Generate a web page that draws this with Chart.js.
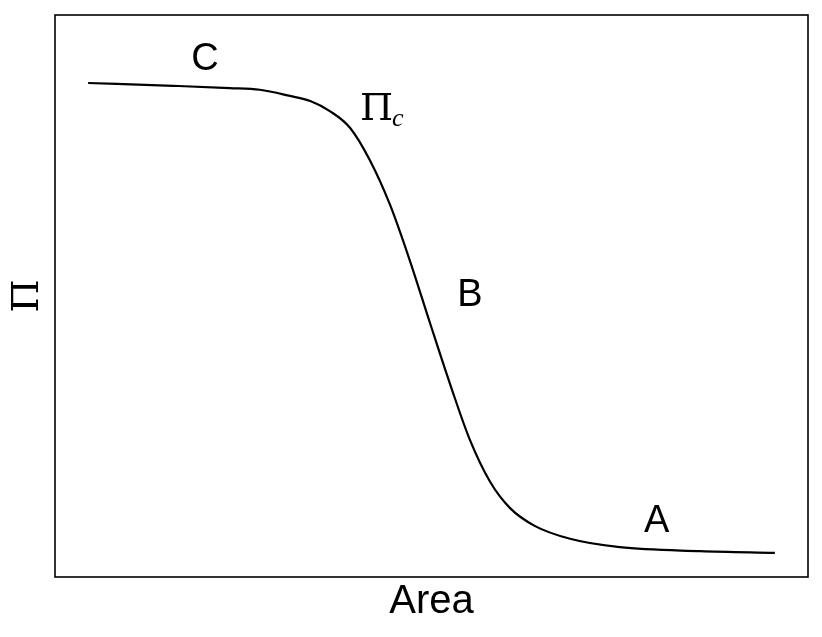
<!DOCTYPE html>
<html>
<head>
<meta charset="utf-8">
<script src="https://cdn.jsdelivr.net/npm/chart.js@4/dist/chart.umd.min.js"></script>
<style>
  html, body { margin: 0; padding: 0; background: #fff; }
  #wrap { width: 822px; height: 637px; }
</style>
</head>
<body>
<div id="wrap"><canvas id="chart"></canvas></div>
<script>
'use strict';

/* === DONNÉES === */
const AIRE = [0.44, 1.57, 2.32, 2.72, 3.12, 3.39, 3.65, 3.92, 4.18, 4.45, 4.71, 4.98,
              5.25, 5.51, 5.78, 6.04, 6.37, 6.84, 7.50, 8.57, 9.56];
const PRESSION = [8.79, 8.74, 8.70, 8.67, 8.56, 8.47, 8.29, 7.99, 7.42, 6.62, 5.64, 4.52,
                  3.42, 2.44, 1.69, 1.23, 0.91, 0.68, 0.53, 0.46, 0.43];

const ETIQUETTES = ['C', 'B', 'A'];
const ETIQ_X = [1.99, 5.51, 7.99];
const ETIQ_Y = [9.02, 4.82, 0.80];

const PI_C_X = 4.05;
const PI_C_Y = 8.13;

/* === PLUGIN : cadre + textes === */
const pluginDecor = {
  id: 'decor',
  afterDraw(chart) {
    const { ctx, chartArea: a, scales } = chart;
    ctx.save();
    ctx.strokeStyle = '#000';
    ctx.lineWidth = 1.6;
    ctx.strokeRect(a.left, a.top, a.right - a.left, a.bottom - a.top);

    ctx.fillStyle = '#000';
    ctx.textAlign = 'center';
    ctx.textBaseline = 'alphabetic';
    ctx.font = '38px "Liberation Sans", Arial, sans-serif';
    ETIQUETTES.forEach((t, i) => {
      ctx.fillText(t, scales.x.getPixelForValue(ETIQ_X[i]), scales.y.getPixelForValue(ETIQ_Y[i]));
    });

    // Π_c
    const px = scales.x.getPixelForValue(PI_C_X);
    const py = scales.y.getPixelForValue(PI_C_Y);
    ctx.textAlign = 'left';
    ctx.font = '38px "DejaVu Serif", "Liberation Serif", serif';
    ctx.fillText('Π', px, py);
    const w = ctx.measureText('Π').width;
    ctx.font = 'italic 26px "Liberation Serif", serif';
    ctx.fillText('c', px + w - 1, py + 6);

    // titres des axes
    ctx.textAlign = 'center';
    ctx.font = '40px "Liberation Sans", Arial, sans-serif';
    ctx.fillText('Area', (a.left + a.right) / 2, 613);

    ctx.translate(38, (a.top + a.bottom) / 2);
    ctx.rotate(-Math.PI / 2);
    ctx.font = '38px "DejaVu Serif", "Liberation Serif", serif';
    ctx.fillText('Π', 0, 0);
    ctx.restore();
  }
};

/* === GRAPHIQUE === */
new Chart(document.getElementById('chart'), {
  type: 'line',
  data: {
    datasets: [{
      data: AIRE.map((x, i) => ({ x, y: PRESSION[i] })),
      borderColor: '#000',
      borderWidth: 2.2,
      pointRadius: 0,
      fill: false,
      cubicInterpolationMode: 'monotone'
    }]
  },
  options: {
    responsive: true,
    maintainAspectRatio: false,
    animation: false,
    layout: { padding: { left: 55, top: 15, right: 14, bottom: 60 } },
    plugins: { legend: { display: false }, tooltip: { enabled: false } },
    scales: {
      x: { type: 'linear', min: 0, max: 10, display: false },
      y: { type: 'linear', min: 0, max: 10, display: false }
    }
  },
  plugins: [pluginDecor]
});
</script>
</body>
</html>
